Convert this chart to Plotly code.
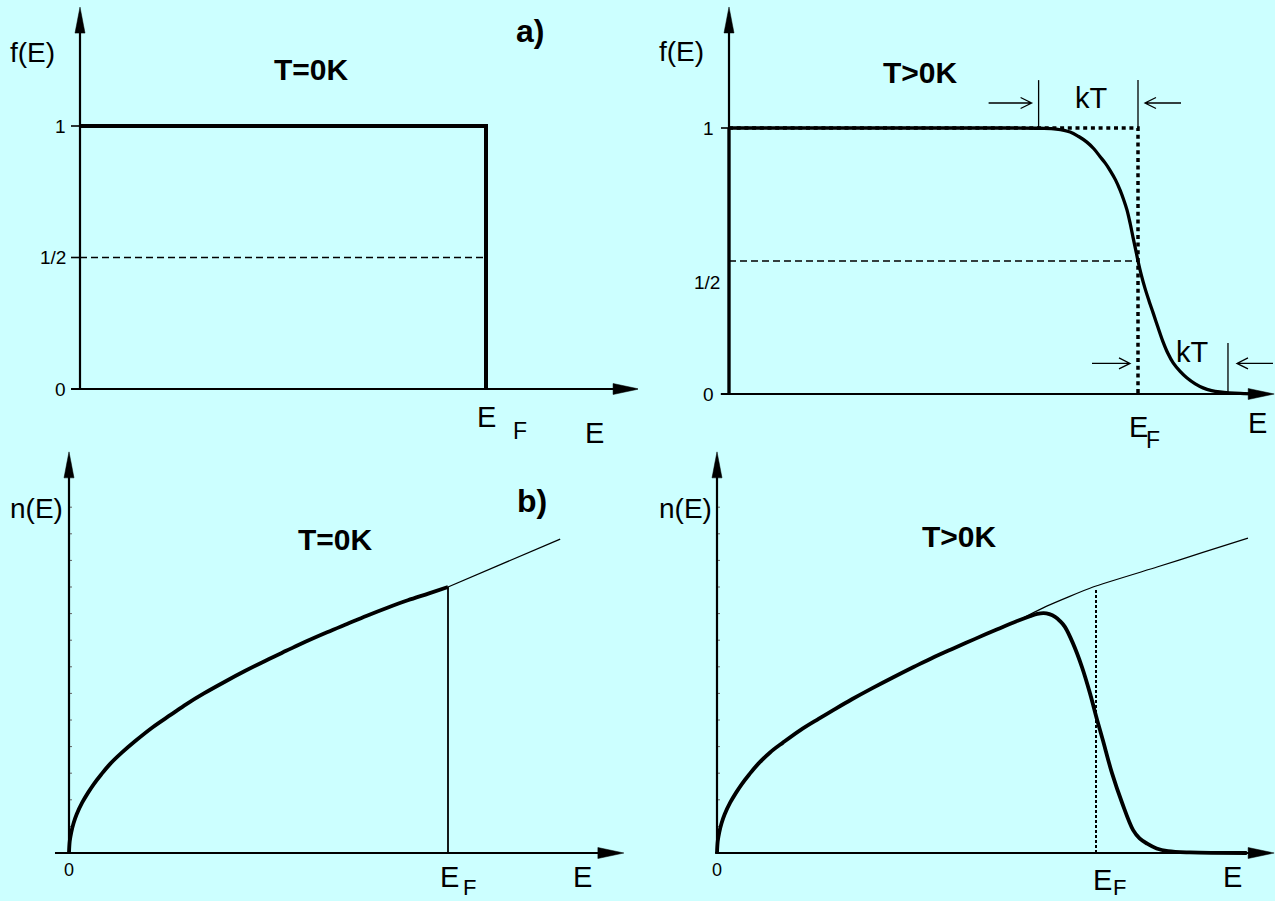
import plotly.graph_objects as go

# ---------------- data (energies in units of E_F) ----------------
E_F = 1.0

# a) occupation probability f(E)
step_E = [0.0, 1.0, 1.0]
step_f = [1.0, 1.0, 0.0]

fd_E = [0.0, 0.70, 0.76, 0.80, 0.834, 0.855, 0.875, 0.892, 0.907, 0.92,
        0.932, 0.945, 0.956, 0.965, 0.973, 0.981, 0.988, 0.994, 1.0, 1.008,
        1.017, 1.027, 1.037, 1.049, 1.061, 1.073, 1.086, 1.103, 1.12, 1.14,
        1.159, 1.18, 1.2, 1.25, 1.3]
fd_f = [1.0, 1.0, 0.999, 0.996, 0.985, 0.968, 0.947, 0.922, 0.893, 0.868,
        0.84, 0.805, 0.767, 0.73, 0.692, 0.64, 0.588, 0.545, 0.5, 0.448,
        0.398, 0.35, 0.305, 0.25, 0.197, 0.153, 0.117, 0.085, 0.06, 0.038,
        0.023, 0.013, 0.008, 0.002, 0.0]

f_ticks_tl = [0.0, 0.5, 1.0]
f_ticks_tr = [0.0, 1.0]
f_tick_labels = {0.0: "0", 0.5: "1/2", 1.0: "1"}

# energy spans marked "kT" on the smeared edge
kT_above = [0.757, 1.0]
kT_below = [1.0, 1.22]

# b) occupied states n(E), T = 0 K
n0_E = [0.0, 0.002, 0.006, 0.012, 0.02, 0.035, 0.05, 0.066, 0.085, 0.108,
        0.14, 0.174, 0.22, 0.269, 0.31, 0.356, 0.41, 0.464, 0.52, 0.573,
        0.625, 0.681, 0.735, 0.786, 0.84, 0.894, 0.95, 1.0]
n0_n = [0.0, 0.045, 0.078, 0.112, 0.145, 0.19, 0.226, 0.26, 0.295, 0.334,
        0.378, 0.42, 0.472, 0.52, 0.56, 0.6, 0.643, 0.684, 0.724, 0.76,
        0.795, 0.83, 0.862, 0.892, 0.922, 0.95, 0.976, 1.0]
g0_ext_E = [1.0, 1.296]
g0_ext_n = [1.0, 1.18]

# b) occupied states n(E), T > 0 K
nT_E = [0.0, 0.002, 0.006, 0.012, 0.02, 0.035, 0.05, 0.066, 0.085, 0.108,
        0.14, 0.174, 0.22, 0.269, 0.31, 0.356, 0.41, 0.464, 0.52, 0.573,
        0.625, 0.681, 0.735, 0.792, 0.826, 0.845, 0.862, 0.877, 0.892, 0.905,
        0.918, 0.939, 0.963, 0.984, 1.003, 1.018, 1.042, 1.069, 1.098, 1.115,
        1.135, 1.16, 1.19, 1.248, 1.398]
nT_n = [0.0, 0.045, 0.078, 0.112, 0.145, 0.19, 0.226, 0.26, 0.295, 0.334,
        0.378, 0.415, 0.462, 0.505, 0.54, 0.578, 0.62, 0.66, 0.70, 0.737,
        0.77, 0.805, 0.838, 0.872, 0.89, 0.899, 0.902, 0.898, 0.888, 0.872,
        0.85, 0.789, 0.699, 0.601, 0.5, 0.425, 0.301, 0.188, 0.086, 0.055,
        0.035, 0.017, 0.007, 0.002, 0.0]
gT_E = [0.80, 0.87, 0.992, 1.161, 1.282, 1.401]
gT_n = [0.878, 0.928, 1.0, 1.075, 1.13, 1.184]

n_minor = [0.1, 0.2, 0.3, 0.4, 0.5, 0.6, 0.7, 0.8, 0.9, 1.0, 1.1, 1.2, 1.3]

# ---------------- styling ----------------
W, H = 1275, 901
BG = "#CCFFFF"
INK = "black"
FONT = "Liberation Sans, Arial, Helvetica, sans-serif"

LABEL = 28      # f(E), n(E)
AXIS_E = 29     # E on the energy axes
SUB = 23        # subscript F
TITLE = 30      # T=0K / T>0K
PART = 32       # a), b)
TICK = 19       # 0, 1/2, 1

# panel frames: pixel box (l, r, t, b), origin pixel, pixels per unit
PANELS = [
    dict(box=(0, 638, 0, 450), origin=(80, 389), unit=(406, 263)),
    dict(box=(638, 1275, 0, 450), origin=(729, 394), unit=(409, 266)),
    dict(box=(0, 638, 450, 901), origin=(69, 853), unit=(379, 266)),
    dict(box=(638, 1275, 450, 901), origin=(717, 853), unit=(379, 266)),
]
# arrowed axis extents in data units: x from, x to, y to
AXES = [
    dict(x=(-0.022, 1.377), ytop=1.452),
    dict(x=(-0.02, 1.333), ytop=1.455),
    dict(x=(-0.037, 1.464), ytop=1.508),
    dict(x=(-0.005, 1.47), ytop=1.508),
]

fig = go.Figure()
layout = dict(
    width=W, height=H, margin=dict(l=0, r=0, t=0, b=0),
    paper_bgcolor=BG, plot_bgcolor=BG, showlegend=False,
    hovermode=False, font=dict(family=FONT, color=INK),
)
shapes = []
annotations = []


def refs(i):
    s = "" if i == 0 else str(i + 1)
    return "x" + s, "y" + s


for i, p in enumerate(PANELS):
    l, r, t, b = p["box"]
    ox, oy = p["origin"]
    ux, uy = p["unit"]
    s = "" if i == 0 else str(i + 1)
    layout["xaxis" + s] = dict(domain=[l / W, r / W],
                               range=[(l - ox) / ux, (r - ox) / ux],
                               visible=False, fixedrange=True, anchor="y" + s)
    layout["yaxis" + s] = dict(domain=[1 - b / H, 1 - t / H],
                               range=[(oy - b) / uy, (oy - t) / uy],
                               visible=False, fixedrange=True, anchor="x" + s)

    # axes with filled arrowheads
    xr, yr = refs(i)
    ax = AXES[i]
    x0, x1 = ax["x"]
    shapes.append(dict(type="line", xref=xr, yref=yr, x0=x0, x1=x1 - 12 / ux,
                       y0=0, y1=0, line=dict(color=INK, width=2)))
    shapes.append(dict(type="line", xref=xr, yref=yr, x0=0, x1=0,
                       y0=0, y1=ax["ytop"] - 12 / uy, line=dict(color=INK, width=2.2)))
    shapes.append(dict(type="path", xref=xr, yref=yr, xsizemode="pixel",
                       ysizemode="pixel", xanchor=x1, yanchor=0,
                       path="M0,0 L-26,5.5 L-26,-5.5 Z", fillcolor=INK,
                       line=dict(color=INK, width=0.5)))
    shapes.append(dict(type="path", xref=xr, yref=yr, xsizemode="pixel",
                       ysizemode="pixel", xanchor=0, yanchor=ax["ytop"],
                       path="M0,0 L-5,-26 L5,-26 Z", fillcolor=INK,
                       line=dict(color=INK, width=0.5)))


def add_line(i, x, y, width, dash=None, shape="linear", smoothing=None):
    xr, yr = refs(i)
    ln = dict(color=INK, width=width, shape=shape)
    if dash:
        ln["dash"] = dash
    if smoothing is not None:
        ln["smoothing"] = smoothing
    fig.add_trace(go.Scatter(x=x, y=y, mode="lines", line=ln,
                             xaxis=xr, yaxis=yr, hoverinfo="skip"))


def text(i, x, y, s, size, bold=False, xanchor="center"):
    xr, yr = refs(i)
    annotations.append(dict(
        x=x, y=y, xref=xr, yref=yr, text=f"<b>{s}</b>" if bold else s,
        showarrow=False, xanchor=xanchor, yanchor="middle",
        font=dict(family=FONT, size=size, color=INK)))


def y_ticks(i, values, length_px):
    ux = PANELS[i]["unit"][0]
    xs, ys = [], []
    for v in values:
        xs += [-length_px / ux, 0, None]
        ys += [v, v, None]
    add_line(i, xs, ys, 1.6)


def minor_ticks(i, values):
    ux = PANELS[i]["unit"][0]
    xs, ys = [], []
    for v in values:
        xs += [0, 3 / ux, None]
        ys += [v, v, None]
    xr, yr = refs(i)
    fig.add_trace(go.Scatter(x=xs, y=ys, mode="lines",
                             line=dict(color="#666666", width=1),
                             xaxis=xr, yaxis=yr, hoverinfo="skip"))


def open_arrow(direction, length, gap):
    """Thin arrow with an open V head; tip sits `gap` px from the anchor."""
    d = 1 if direction > 0 else -1
    tip = -d * gap
    tail = tip - d * length
    back = tip - d * 11
    return f"M{tail},0 L{tip},0 M{back},-5.5 L{tip},0 L{back},5.5"


# ---------- a) T = 0 K ----------
add_line(0, [0, E_F], [0.5, 0.5], 1.3, dash="7px,4px")
add_line(0, step_E, step_f, 4)
y_ticks(0, f_ticks_tl, 9)
for v in f_ticks_tl:
    text(0, -0.03, v, f_tick_labels[v], TICK, xanchor="right")
text(0, -0.116, 1.278, "f(E)", LABEL)
text(0, 0.571, 1.213, "T=0K", TITLE, bold=True)
text(0, 1.108, 1.361, "a)", PART, bold=True)
text(0, 1.0, -0.108, "E", AXIS_E)
text(0, 1.084, -0.16, "F", SUB)
text(0, 1.268, -0.167, "E", AXIS_E)

# ---------- a) T > 0 K ----------
add_line(1, [0, E_F], [0.5, 0.5], 1.3, dash="7px,4px")
add_line(1, [0, E_F, E_F], [1, 1, 0], 3.5, dash="4px,3.7px")
add_line(1, [fd_E[0], fd_E[0]], [0, fd_f[0]], 3.3)
add_line(1, fd_E, fd_f, 3.3, shape="spline", smoothing=1.0)
y_ticks(1, f_ticks_tr, 8)
text(1, -0.032, 1.0, "1", TICK, xanchor="right")
text(1, -0.032, 0.0, "0", TICK, xanchor="right")
text(1, -0.018, 0.421, "1/2", TICK, xanchor="right")
text(1, -0.117, 1.286, "f(E)", LABEL)
text(1, 0.467, 1.21, "T>0K", TITLE, bold=True)
text(1, 1.002, -0.124, "E", AXIS_E)
text(1, 1.037, -0.173, "F", SUB)
text(1, 1.293, -0.109, "E", AXIS_E)

# "kT" width markers
xr, yr = refs(1)
for e in kT_above:
    shapes.append(dict(type="line", xref=xr, yref=yr, x0=e, x1=e, y0=1.0,
                       y1=1.18, line=dict(color=INK, width=1.3)))
shapes.append(dict(type="line", xref=xr, yref=yr, x0=kT_below[1], x1=kT_below[1],
                   y0=0.0, y1=0.192, line=dict(color=INK, width=1.3)))
for anchor_x, anchor_y, path in [(kT_above[0], 1.094, open_arrow(+1, 43, 7)),
                                 (kT_above[1], 1.094, open_arrow(-1, 36, 7)),
                                 (kT_below[0], 0.115, open_arrow(+1, 38, 8)),
                                 (kT_below[1], 0.115, open_arrow(-1, 36, 9))]:
    shapes.append(dict(type="path", xref=xr, yref=yr, xsizemode="pixel",
                       ysizemode="pixel", xanchor=anchor_x, yanchor=anchor_y,
                       path=path, line=dict(color=INK, width=1.3)))
text(1, 0.887, 1.113, "kT", AXIS_E)
text(1, 1.134, 0.158, "kT", AXIS_E)

# ---------- b) T = 0 K ----------
minor_ticks(2, n_minor)
add_line(2, [E_F, E_F], [0, 1.0], 1.8)
add_line(2, g0_ext_E, g0_ext_n, 1.3)
add_line(2, n0_E, n0_n, 3.8, shape="spline", smoothing=1.0)
text(2, 0.0, -0.064, "0", TICK - 1)
text(2, -0.087, 1.297, "n(E)", LABEL)
text(2, 0.702, 1.177, "T=0K", TITLE, bold=True)
text(2, 1.222, 1.323, "b)", PART, bold=True)
text(2, 1.005, -0.09, "E", AXIS_E)
text(2, 1.058, -0.128, "F", SUB - 1)
text(2, 1.356, -0.09, "E", AXIS_E)

# ---------- b) T > 0 K ----------
minor_ticks(3, n_minor)
add_line(3, [E_F, E_F], [0, 0.996], 2, dash="3px,2px")
add_line(3, gT_E, gT_n, 1.2, shape="spline", smoothing=0.5)
add_line(3, nT_E, nT_n, 3.8, shape="spline", smoothing=1.0)
text(3, 0.0, -0.064, "0", TICK - 1)
text(3, -0.082, 1.297, "n(E)", LABEL)
text(3, 0.641, 1.188, "T>0K", TITLE, bold=True)
text(3, 1.016, -0.1, "E", AXIS_E)
text(3, 1.061, -0.128, "F", SUB - 1)
text(3, 1.359, -0.09, "E", AXIS_E)

layout["shapes"] = shapes
layout["annotations"] = annotations
fig.update_layout(**layout)
fig.write_html("out.html")
